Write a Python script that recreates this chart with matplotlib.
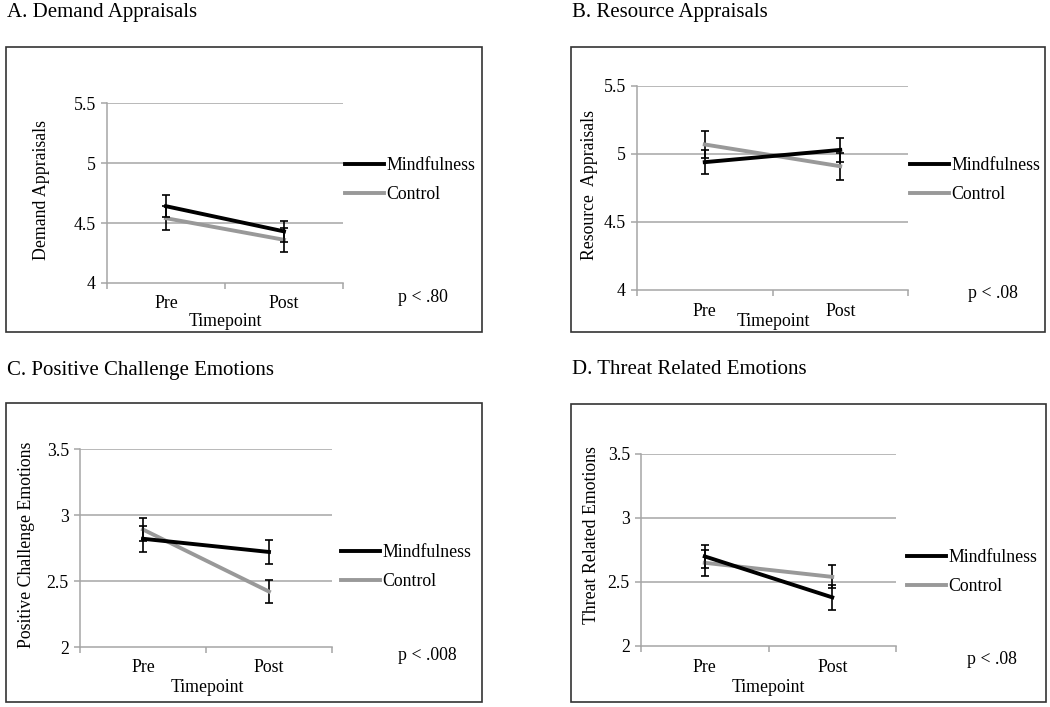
import matplotlib
matplotlib.use("Agg")
import matplotlib.pyplot as plt
from matplotlib.patches import Rectangle
from matplotlib.lines import Line2D

plt.rcParams['font.family'] = ['Liberation Serif', 'DejaVu Serif']

timepoints = ["Pre", "Post"]
series = ["Mindfulness", "Control"]

titles = ["A. Demand Appraisals", "B. Resource Appraisals",
          "C. Positive Challenge Emotions", "D. Threat Related Emotions"]
ylabels = ["Demand Appraisals", "Resource  Appraisals",
           "Positive Challenge Emotions", "Threat Related Emotions"]
pvals = ["p < .80", "p < .08", "p < .008", "p < .08"]

# means [Pre, Post]
demand_mind = [4.64, 4.43]
demand_ctrl = [4.54, 4.36]
demand_mind_se = [0.09, 0.09]
demand_ctrl_se = [0.10, 0.10]

resource_mind = [4.94, 5.03]
resource_ctrl = [5.07, 4.91]
resource_mind_se = [0.09, 0.09]
resource_ctrl_se = [0.10, 0.10]

positive_mind = [2.82, 2.72]
positive_ctrl = [2.89, 2.42]
positive_mind_se = [0.10, 0.09]
positive_ctrl_se = [0.09, 0.09]

threat_mind = [2.70, 2.38]
threat_ctrl = [2.65, 2.54]
threat_mind_se = [0.09, 0.10]
threat_ctrl_se = [0.10, 0.09]

yticks_ab = [4, 4.5, 5, 5.5]
yticklabels_ab = ["4", "4.5", "5", "5.5"]
yticks_cd = [2, 2.5, 3, 3.5]
yticklabels_cd = ["2", "2.5", "3", "3.5"]

W, H = 1050, 707
fig = plt.figure(figsize=(W / 100, H / 100), dpi=100)

def fx(x):
    return x / W

def fy(y):
    return 1 - y / H

panels = [
    dict(title=titles[0], tpos=(7, 13), box=(6, 47, 482, 332), ax=(107, 343, 103, 283),
         mind=demand_mind, ctrl=demand_ctrl, mse=demand_mind_se, cse=demand_ctrl_se,
         yt=yticks_ab, ytl=yticklabels_ab, ylab=ylabels[0], ylabx=42, ylaby=190,
         leg=(343, 180), p=pvals[0], ppos=(398, 297), xlab=(225, 322), tl=304),
    dict(title=titles[1], tpos=(572, 13), box=(571, 47, 1045, 332), ax=(637, 908, 86, 290),
         mind=resource_mind, ctrl=resource_ctrl, mse=resource_mind_se, cse=resource_ctrl_se,
         yt=yticks_ab, ytl=yticklabels_ab, ylab=ylabels[1], ylabx=590, ylaby=185,
         leg=(908, 180), p=pvals[1], ppos=(968, 293), xlab=(773, 322), tl=312),
    dict(title=titles[2], tpos=(7, 370), box=(6, 403, 482, 702), ax=(80, 332, 449, 647),
         mind=positive_mind, ctrl=positive_ctrl, mse=positive_mind_se, cse=positive_ctrl_se,
         yt=yticks_cd, ytl=yticklabels_cd, ylab=ylabels[2], ylabx=27, ylaby=545,
         leg=(339, 567), p=pvals[2], ppos=(398, 655), xlab=(207, 688), tl=667),
    dict(title=titles[3], tpos=(572, 370), box=(571, 404, 1046, 702), ax=(641, 896, 454, 646),
         mind=threat_mind, ctrl=threat_ctrl, mse=threat_mind_se, cse=threat_ctrl_se,
         yt=yticks_cd, ytl=yticklabels_cd, ylab=ylabels[3], ylabx=592, ylaby=535,
         leg=(905, 572), p=pvals[3], ppos=(967, 659), xlab=(768, 688), tl=667),
]

grid_c = "#a6a6a6"
ctrl_c = "#999999"
fs = 12.8

for p in panels:
    bl, bt, br, bb = p["box"]
    fig.patches.append(Rectangle((fx(bl), fy(bb)), fx(br - bl), (bb - bt) / H,
                                 transform=fig.transFigure, fill=False,
                                 edgecolor="#333333", linewidth=1.2, zorder=0))
    fig.text(fx(p["tpos"][0]), fy(p["tpos"][1]), p["title"], fontsize=15,
             ha="left", va="center")
    L, R, T, B = p["ax"]
    ax = fig.add_axes([fx(L), fy(B), fx(R - L), (B - T) / H])
    ax.set_xlim(0, 2)
    ax.set_ylim(p["yt"][0], p["yt"][-1])
    xs = [0.5, 1.5]
    ax.errorbar(xs, p["mind"], yerr=p["mse"], color="black", lw=2.8,
                ecolor="black", elinewidth=1.2, capsize=3, capthick=1.2,
                label=series[0], zorder=4)
    ax.errorbar(xs, p["ctrl"], yerr=p["cse"], color=ctrl_c, lw=2.8,
                ecolor="black", elinewidth=1.2, capsize=3, capthick=1.2,
                label=series[1], zorder=3)
    ax.set_yticks(p["yt"])
    ax.set_yticklabels(p["ytl"], fontsize=fs)
    for yv in p["yt"][1:]:
        ax.axhline(yv, color=grid_c, lw=1.1, zorder=1)
    ax.set_xticks([0, 1, 2])
    ax.set_xticklabels(["", "", ""])
    ax.set_xticks(xs, minor=True)
    ax.set_xticklabels([], minor=True)
    ax.tick_params(axis="x", which="major", length=4, color=grid_c, width=1.1)
    ax.tick_params(axis="x", which="minor", length=0)
    ax.tick_params(axis="y", length=4, color=grid_c, width=1.1, pad=4)
    for s in ["top", "right"]:
        ax.spines[s].set_visible(False)
    for s in ["left", "bottom"]:
        ax.spines[s].set_color(grid_c)
        ax.spines[s].set_linewidth(1.1)
    ax.patch.set_alpha(0)
    for xv, lab in zip(xs, timepoints):
        xd = ax.transData.transform((xv, p["yt"][0]))[0]
        fig.text(xd / W, fy(p["tl"]), lab, fontsize=fs, ha="center", va="center")
    fig.text(fx(p["xlab"][0]), fy(p["xlab"][1]), "Timepoint", fontsize=fs,
             ha="center", va="center")
    fig.text(fx(p["ylabx"]), fy(p["ylaby"]), p["ylab"], fontsize=fs,
             rotation=90, ha="center", va="center")
    fig.text(fx(p["ppos"][0]), fy(p["ppos"][1]), p["p"], fontsize=fs,
             ha="left", va="center")
    handles = [Line2D([], [], color="black", lw=2.8),
               Line2D([], [], color=ctrl_c, lw=2.8)]
    fig.legend(handles, series, loc="center left",
               bbox_to_anchor=(fx(p["leg"][0]) - 0.005, fy(p["leg"][1])),
               frameon=False, fontsize=fs, handlelength=2.2, handletextpad=0.15,
               labelspacing=0.7, borderaxespad=0)

fig.savefig("out.png", dpi=100)
